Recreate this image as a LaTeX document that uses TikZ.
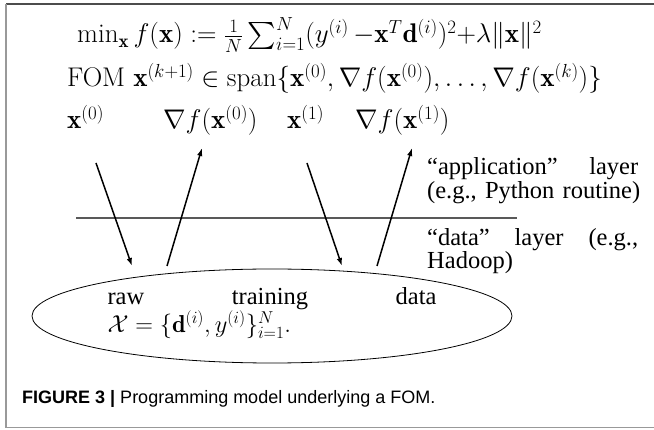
\documentclass[tikz,border=0pt]{standalone}
\usepackage{fix-cm}
\usepackage{amsmath}
\usepackage{amssymb}
\usepackage{fontspec}
\newfontfamily\tnr{Liberation Serif}
\newfontfamily\capsf{Liberation Sans}
\usetikzlibrary{shapes.geometric,arrows.meta}

\tikzset{
  big/.style={font=\fontsize{27}{22}\selectfont, inner sep=0pt, anchor=base west},
  layer/.style={font=\fontsize{24.5}{20.5}\selectfont\tnr, inner sep=0pt, anchor=base west, text width=211pt, align=left},
  store/.style={draw, ellipse, line width=0.8pt, inner sep=0pt, minimum width=480pt, minimum height=94pt,
    font=\fontsize{24.5}{20.5}\selectfont\tnr, text width=329pt, align=left},
  flow/.style={-{Latex[length=8pt,width=5.5pt]}, line width=1.5pt},
  sep/.style={draw=black!65, line width=1.6pt},
}

\begin{document}
\begin{tikzpicture}[x=10pt, y=-10pt]
    \useasboundingbox (0,0) rectangle (65.4,43);
    \draw[black!70, line width=1.6pt] (0.6,0.4) -- (66,0.4);
    \draw[black!40, line width=1.4pt] (0.6,0.4) -- (0.6,42.75) -- (66,42.75);

    \node[big] (cost) at (7.7,4.3) {$\min_{\mathbf{x}}f(\mathbf{x}):=\frac{1}{N}\sum_{i=1}^{N}(y^{(i)}\,{-}\mathbf{x}^T\mathbf{d}^{(i)})^2{+}\lambda\|\mathbf{x}\|^2$};
    \node[big] (fom) at (6.7,8.7) {FOM $\mathbf{x}^{(k+1)}\in\operatorname{span}\{\mathbf{x}^{(0)},\nabla f(\mathbf{x}^{(0)}),\ldots,\nabla f(\mathbf{x}^{(k)})\}$};

    \node[big] (x0) at (6.7,12.9) {$\mathbf{x}^{(0)}$};
    \node[big] (g0) at (16.3,12.9) {$\nabla f(\mathbf{x}^{(0)})$};
    \node[big] (x1) at (28.7,12.9) {$\mathbf{x}^{(1)}$};
    \node[big] (g1) at (35.5,12.9) {$\nabla f(\mathbf{x}^{(1)})$};

    \node[layer] (app) at (42.7,17.5) {“application”\hfill layer\\\mbox{(e.g., Python routine)}};
    \node[layer] (dat) at (42.7,24.55) {“data”\hfill layer\hfill (e.g.,\\Hadoop)};

    \coordinate (sepl) at (7.6,21.8);
    \coordinate (sepr) at (51.7,21.8);
    \draw[sep] (sepl) -- (sepr);

    \node[store] (train) at (27.2,31.6) {\setlength\lineskiplimit{-20pt}raw\hfill training\hfill data\\$\mathcal{X}=\{\mathbf{d}^{(i)},y^{(i)}\}_{i=1}^{N}.$\rule[-12pt]{0pt}{0pt}};

    \coordinate (x0out) at (9.6,16.3);
    \coordinate (x0in) at (13.2,26.6);
    \coordinate (g0out) at (16.7,26.6);
    \coordinate (g0in) at (20.2,14.8);
    \coordinate (x1out) at (30.7,16.3);
    \coordinate (x1in) at (34.2,26.6);
    \coordinate (g1out) at (37.7,26.6);
    \coordinate (g1in) at (41.2,14.8);

    \draw[flow] (x0out) -- (x0in);
    \draw[flow] (g0out) -- (g0in);
    \draw[flow] (x1out) -- (x1in);
    \draw[flow] (g1out) -- (g1in);

    \node[font=\fontsize{18}{20}\selectfont\capsf, inner sep=0pt, anchor=base west] (cap) at (2.2,40.4) {\textbf{FIGURE 3 |} Programming model underlying a FOM.};
\end{tikzpicture}
\end{document}
